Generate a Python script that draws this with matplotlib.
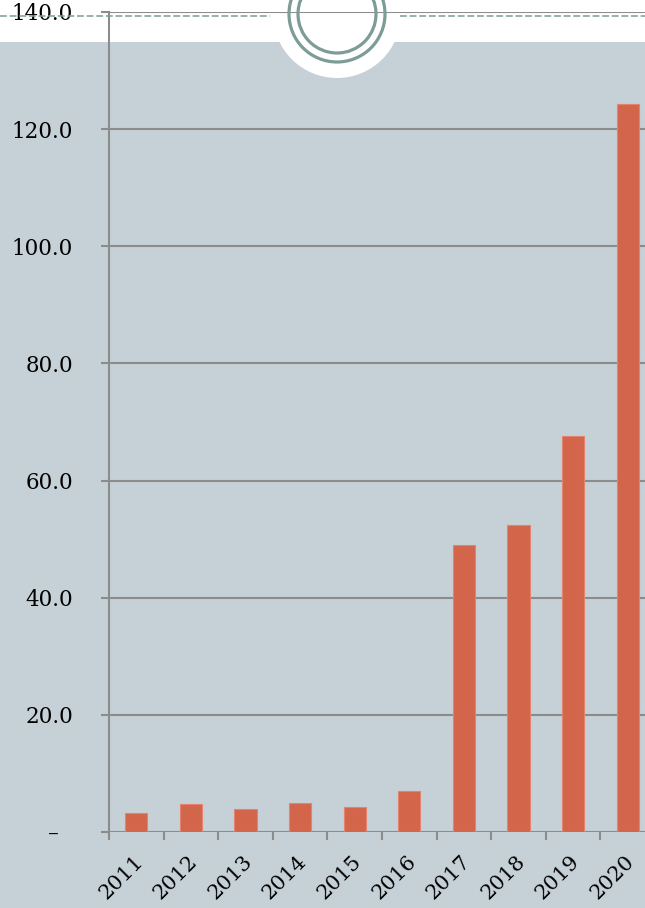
import matplotlib
matplotlib.use("Agg")
import matplotlib.pyplot as plt
from matplotlib.patches import Rectangle, Ellipse
from matplotlib.lines import Line2D
from matplotlib.ticker import FixedLocator, FuncFormatter
from matplotlib.transforms import ScaledTranslation

# data
years = ['2011', '2012', '2013', '2014', '2015', '2016', '2017', '2018', '2019', '2020']
values = [3.2, 4.8, 4.0, 5.0, 4.3, 7.0, 49.0, 52.4, 67.6, 124.3]
y_ticks = [0, 20, 40, 60, 80, 100, 120, 140]

W, H = 645, 908
bg = '#C6D1D7'
bar_col = '#D3654B'
grid_col = '#8C8C8C'
ring_col = '#7D9B97'

fig = plt.figure(figsize=(W / 100, H / 100), dpi=100)
fig.patch.set_facecolor('white')

# blue-gray panel + white bump under the ring
fig.patches.append(Rectangle((0, 0), 1, (H - 42) / H, transform=fig.transFigure,
                             facecolor=bg, edgecolor='none', zorder=-2))
cx, cy = 337 / W, 1 - 14 / H
fig.patches.append(Ellipse((cx, cy), 128 / W, 128 / H, transform=fig.transFigure,
                           facecolor='white', edgecolor='none', zorder=-1))

ax = fig.add_axes([109 / W, (H - 832) / H, 546 / W, 820 / H])
ax.patch.set_alpha(0)
ax.set_axisbelow(True)

x = range(len(years))
ax.bar(x, values, width=0.41, color=bar_col, edgecolor='#E2846F', linewidth=0.8, zorder=3)

ax.set_xlim(-0.5, len(years) - 0.5)
ax.set_ylim(0, 140)

# y axis
ax.yaxis.set_major_locator(FixedLocator(y_ticks))
ax.yaxis.set_major_formatter(FuncFormatter(lambda v, p: '\u2013  ' if v == 0 else '%.1f' % v))
ax.grid(axis='y', color=grid_col, linewidth=1.5)
ax.tick_params(axis='y', length=6, width=1.5, color=grid_col, pad=20,
               labelsize=15.5, labelcolor='black')

# x axis: ticks between categories, labels at centers
ax.set_xticks(list(x))
ax.set_xticklabels(years, rotation=45, ha='right', rotation_mode='anchor')
ax.set_xticks([i - 0.5 for i in range(len(years) + 1)], minor=True)
ax.tick_params(axis='x', which='major', length=0, pad=14, labelsize=15)
ax.tick_params(axis='x', which='minor', length=6, width=1.5, color=grid_col)

shift = ScaledTranslation(-3 / 100, 0, fig.dpi_scale_trans)
for lbl in ax.get_xticklabels():
    lbl.set_transform(lbl.get_transform() + shift)

for lbl in ax.get_yticklabels() + ax.get_xticklabels():
    lbl.set_family('DejaVu Serif')

for s in ['top', 'right', 'bottom']:
    ax.spines[s].set_visible(False)
ax.spines['left'].set_color(grid_col)
ax.spines['left'].set_linewidth(1.5)

# decorative dashed line and double ring at the top
yd = 1 - 16 / H
for x0, x1 in [(0, 270 / W), (400 / W, 1)]:
    fig.lines.append(Line2D([x0, x1], [yd, yd], transform=fig.transFigure,
                            color=ring_col, linewidth=1.1, dashes=(4.5, 1.8), zorder=1))
for r in (48, 39):
    fig.patches.append(Ellipse((cx, cy), 2 * r / W, 2 * r / H, transform=fig.transFigure,
                               facecolor='none', edgecolor=ring_col, linewidth=2.3, zorder=2))

fig.savefig('out.png', dpi=100)
